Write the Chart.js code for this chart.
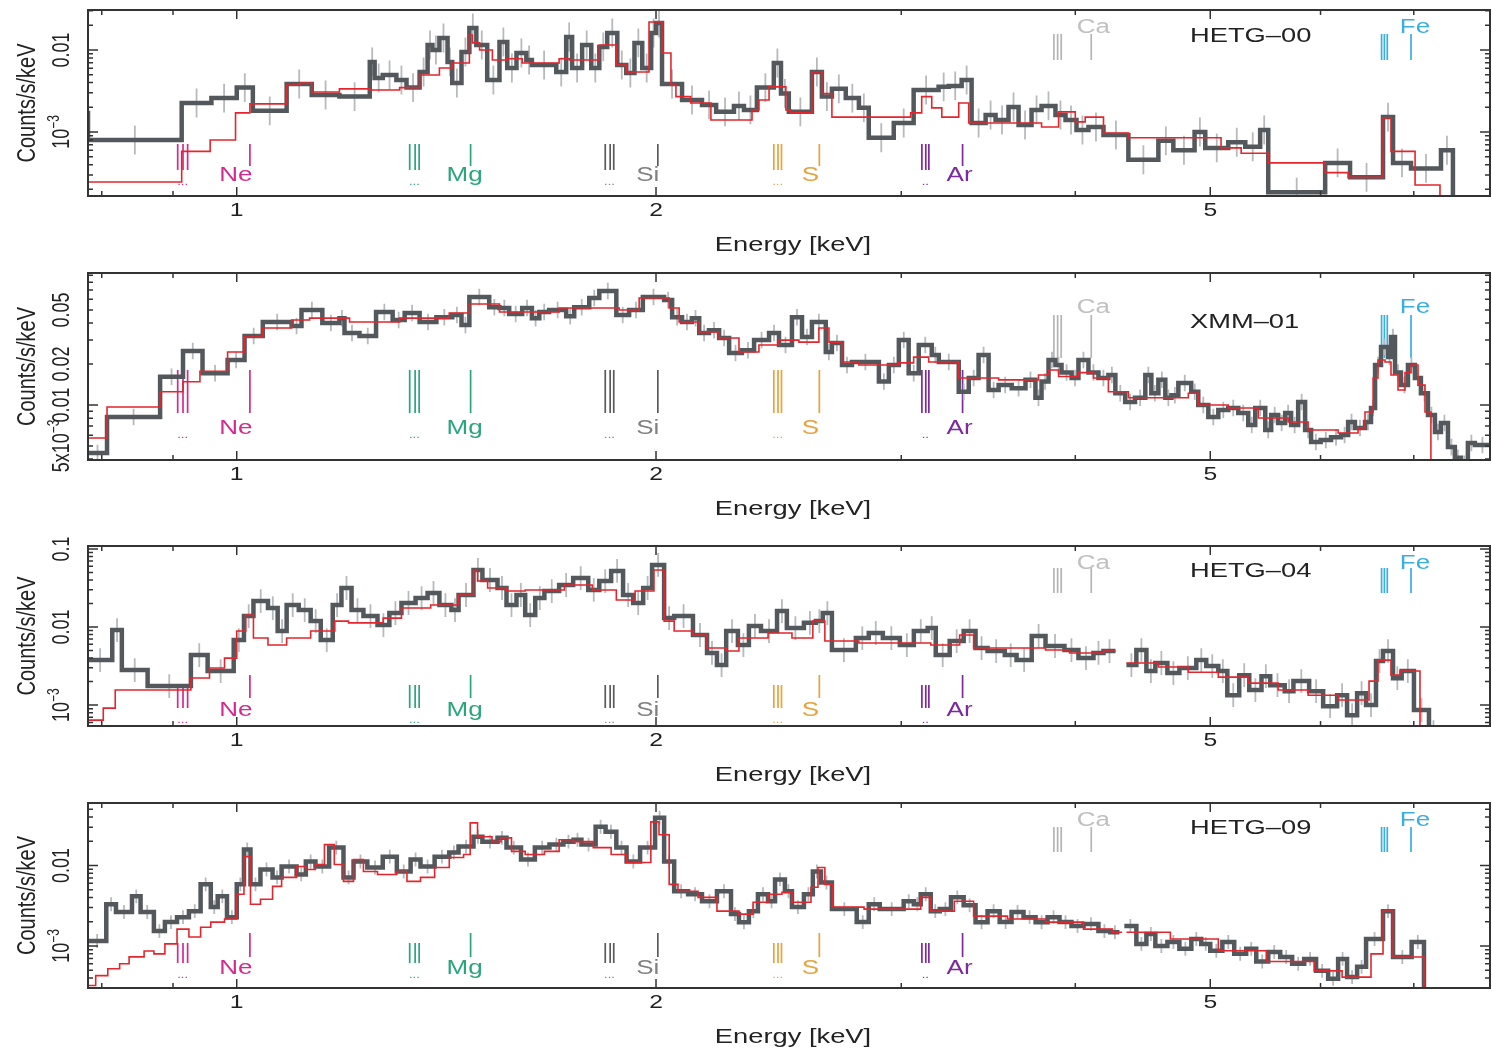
<!DOCTYPE html>
<html>
<head>
<meta charset="utf-8">
<script src="https://cdn.jsdelivr.net/npm/chart.js@4.4.0/dist/chart.umd.min.js"></script>
<style>
  html, body { margin: 0; padding: 0; background: #fff; }
  #wrap { position: relative; width: 1492px; height: 1050px; overflow: hidden; }
  .panel { position: absolute; left: 0; width: 1492px; }
</style>
</head>
<body>
<div id="wrap">
  <div class="panel" style="top:0;height:262px"><canvas id="c0"></canvas></div>
  <div class="panel" style="top:263px;height:263px"><canvas id="c1"></canvas></div>
  <div class="panel" style="top:536px;height:256px"><canvas id="c2"></canvas></div>
  <div class="panel" style="top:793px;height:257px"><canvas id="c3"></canvas></div>
</div>
<script>
// ---- energy axis (keV) ----
const X_MIN = 0.782, X_MAX = 7.94;
const xTickVals = [0.8, 0.9, 1, 2, 3, 4, 5, 6, 7];
const xTickText = ['', '', '1', '2', '', '', '5', '', ''];

// ---- emission line ids ----
const ionNames = ['Ne', 'Mg', 'Si', 'S', 'Ar', 'Ca', 'Fe'];
const ionTriplets = [[0.907, 0.915, 0.922], [1.331, 1.343, 1.352], [1.839, 1.854, 1.865],
  [2.430, 2.447, 2.461], [3.104, 3.124, 3.140], [3.861, 3.885, 3.908], [6.637, 6.668, 6.700]];
const ionSingles = [1.022, 1.472, 2.006, 2.620, 3.320, 4.107, 6.968];
const ionDots = ['...', '...', '...', '...', '..', '', ''];

// ---- HETG-00 ----
const p1Name = 'HETG\u201300';
const p1DataE = [0.772,0.782,0.913,0.959,1.000,1.027,1.086,1.132,1.185,1.246,1.256,1.273,1.302,1.324,1.353,1.371,1.382,1.398,1.417,1.428,1.450,1.469,1.486,1.513,1.544,1.564,1.588,1.614,1.629,1.696,1.724,1.741,1.770,1.797,1.821,1.845,1.876,1.904,1.930,1.955,1.984,2.000,2.020,2.088,2.158,2.209,2.275,2.313,2.363,2.430,2.459,2.491,2.588,2.631,2.675,2.737,2.797,2.843,2.963,3.062,3.191,3.245,3.315,3.370,3.449,3.506,3.582,3.642,3.721,3.783,3.871,3.936,4.008,4.088,4.191,4.367,4.589,4.704,4.872,4.959,5.151,5.298,5.430,5.503,6.046,6.300,6.653,6.764,6.968,7.322,7.468];
const p1DataV = [0.00171,0.00080,0.00226,0.00259,0.00348,0.00181,0.00385,0.00283,0.00270,0.00715,0.00456,0.00496,0.00431,0.00348,0.00538,0.0115,0.0100,0.0140,0.00715,0.00396,0.00946,0.0185,0.0115,0.00431,0.0125,0.00604,0.00919,0.00755,0.00656,0.00538,0.0144,0.00604,0.0115,0.00604,0.0109,0.0161,0.00656,0.00524,0.0122,0.00604,0.0161,0.0213,0.00385,0.00246,0.00214,0.00176,0.00208,0.00186,0.00348,0.00694,0.00295,0.00176,0.00538,0.00270,0.00336,0.00259,0.00197,0.00085,0.00129,0.00325,0.00355,0.00365,0.00431,0.00129,0.00161,0.00140,0.00202,0.00122,0.00186,0.00208,0.00161,0.00140,0.00106,0.00115,0.00092,0.00046,0.00078,0.00060,0.00100,0.00064,0.00075,0.00066,0.00106,0.000185,0.00042,0.00028,0.00152,0.00042,0.00036,0.00060,0.0001];
const p1ModelE = [0.782,0.913,0.957,0.998,1.022,1.086,1.110,1.132,1.185,1.246,1.309,1.353,1.398,1.428,1.469,1.476,1.494,1.526,1.561,1.603,1.704,1.733,1.821,1.873,1.904,1.977,2.020,2.050,2.067,2.118,2.190,2.344,2.371,2.411,2.479,2.499,2.588,2.631,2.675,3.047,3.103,3.155,3.208,3.299,3.354,3.783,3.891,4.000,4.066,4.191,4.367,5.090,5.262,5.503,6.046,6.280,6.653,6.741,7.015,7.310];
const p1ModelV = [0.000246,0.00058,0.00080,0.00171,0.0022,0.00374,0.00396,0.00308,0.00336,0.00325,0.00348,0.00496,0.00604,0.00694,0.0152,0.0122,0.0100,0.00755,0.00780,0.00694,0.00780,0.00755,0.0115,0.00656,0.00538,0.0219,0.00919,0.00374,0.00270,0.00226,0.00140,0.00186,0.00246,0.00355,0.00186,0.00171,0.00538,0.00295,0.00152,0.00171,0.00270,0.00197,0.00152,0.00226,0.00129,0.00115,0.00176,0.00133,0.00152,0.00097,0.00085,0.00064,0.00055,0.00042,0.00032,0.00028,0.00148,0.00058,0.000226,0.0001];
const p1ErrFactor = 1.5;
const p1YRange = [1.66e-4, 0.0307];
const p1YTicks = [0.01, 0.001];
const p1YText = ['0.01', '10^\u22123'];

// ---- XMM-01 ----
const p2Name = 'XMM\u201301';
const p2DataE = [0.782,0.807,0.881,0.915,0.945,0.985,1.013,1.044,1.095,1.113,1.152,1.185,1.195,1.225,1.259,1.294,1.320,1.353,1.391,1.428,1.450,1.469,1.518,1.544,1.569,1.603,1.629,1.649,1.676,1.724,1.747,1.791,1.821,1.873,1.913,1.957,2.027,2.054,2.088,2.122,2.148,2.183,2.220,2.257,2.305,2.352,2.411,2.451,2.504,2.546,2.588,2.648,2.675,2.720,2.765,2.891,2.939,2.988,3.037,3.088,3.155,3.192,3.299,3.354,3.409,3.466,3.524,3.601,3.684,3.745,3.783,3.827,3.871,3.910,3.976,4.021,4.088,4.156,4.225,4.274,4.344,4.415,4.491,4.536,4.589,4.642,4.689,4.743,4.845,4.902,4.984,5.067,5.151,5.237,5.324,5.386,5.476,5.530,5.594,5.659,5.715,5.782,5.849,5.907,6.001,6.105,6.207,6.280,6.351,6.458,6.522,6.566,6.631,6.708,6.741,6.786,6.853,6.933,7.013,7.083,7.166,7.249,7.321,7.407,7.492,7.567,7.655,7.744,7.94];
const p2DataV = [0.00444,0.00816,0.0161,0.0249,0.0171,0.0214,0.0321,0.0407,0.0381,0.0499,0.0400,0.0435,0.0338,0.0321,0.0483,0.0421,0.0474,0.0407,0.0442,0.0458,0.0387,0.0622,0.0524,0.0516,0.0467,0.0516,0.0435,0.0483,0.0499,0.0450,0.0524,0.0612,0.0689,0.0458,0.0499,0.0622,0.0591,0.0442,0.0407,0.0435,0.0338,0.0355,0.0311,0.0241,0.0253,0.0300,0.0338,0.0276,0.0442,0.0316,0.0407,0.0245,0.0285,0.0197,0.0207,0.0149,0.0197,0.0300,0.0171,0.0276,0.0233,0.0207,0.0125,0.0158,0.0233,0.0129,0.0140,0.0133,0.0153,0.0113,0.0149,0.0214,0.0197,0.0173,0.0158,0.0214,0.0173,0.0158,0.0166,0.0122,0.0105,0.0113,0.0166,0.0122,0.0153,0.0113,0.0118,0.0145,0.0125,0.0100,0.00816,0.00919,0.00950,0.00873,0.00713,0.00950,0.00655,0.00844,0.00737,0.00873,0.00713,0.0105,0.00655,0.00535,0.00553,0.00580,0.00602,0.00750,0.00678,0.00750,0.00950,0.0197,0.0267,0.0225,0.0316,0.0173,0.0140,0.0197,0.0158,0.0122,0.00844,0.00633,0.00737,0.00490,0.00410,0.00370,0.00526,0.00508,0.00508];
const p2ModelE = [0.782,0.807,0.881,0.915,0.941,0.985,1.013,1.044,1.095,1.128,1.205,1.309,1.421,1.469,1.544,1.704,1.882,1.945,2.044,2.078,2.148,2.220,2.294,2.371,2.451,2.533,2.618,2.662,2.719,2.797,2.988,3.062,3.139,3.299,3.524,3.764,3.827,3.891,4.021,4.122,4.225,4.367,4.822,4.902,5.151,5.413,5.687,5.878,6.177,6.384,6.458,6.545,6.598,6.675,6.741,6.820,6.899,6.968,7.049,7.131,7.201];
const p2ModelV = [0.00572,0.00967,0.0125,0.0148,0.0177,0.0245,0.0316,0.0368,0.0421,0.0435,0.0407,0.0435,0.0474,0.0553,0.0483,0.0516,0.0499,0.0612,0.0516,0.0407,0.0344,0.0311,0.0245,0.0276,0.0300,0.0290,0.0368,0.0290,0.0207,0.0197,0.0204,0.0225,0.0207,0.0158,0.0153,0.0166,0.0181,0.0162,0.0173,0.0158,0.0125,0.0113,0.0122,0.0100,0.00950,0.00802,0.00750,0.00655,0.00622,0.00678,0.00888,0.0158,0.0214,0.0207,0.0166,0.0129,0.0173,0.0197,0.0140,0.00888,0.0030];
const p2ErrFactor = 1.15;
const p2YRange = [0.00394, 0.0934];
const p2YTicks = [0.05, 0.02, 0.01, 0.005];
const p2YText = ['0.05', '0.02', '0.01', '5x10^\u22123'];

// ---- HETG-04 ----
const p3Name = 'HETG\u201304';
const p3DataE = [0.782,0.814,0.827,0.863,0.927,0.953,0.995,1.012,1.028,1.053,1.070,1.086,1.108,1.130,1.149,1.172,1.189,1.209,1.233,1.262,1.287,1.313,1.344,1.371,1.398,1.426,1.443,1.479,1.501,1.539,1.562,1.588,1.611,1.638,1.663,1.704,1.744,1.788,1.821,1.857,1.894,1.926,1.958,1.987,2.027,2.061,2.126,2.176,2.212,2.246,2.290,2.332,2.379,2.443,2.483,2.554,2.605,2.635,2.675,2.783,2.843,2.910,2.993,3.063,3.134,3.176,3.250,3.326,3.392,3.460,3.560,3.630,3.722,3.808,3.929,4.021,4.122,4.191,4.275,4.30,4.353,4.425,4.499,4.566,4.658,4.751,4.886,4.967,5.067,5.143,5.245,5.333,5.442,5.521,5.655,5.737,5.888,6.026,6.167,6.269,6.374,6.469,6.576,6.653,6.764,6.861,7.002,7.178,7.285];
const p3DataV = [0.00377,0.00915,0.00281,0.00175,0.00437,0.00273,0.00681,0.0138,0.0215,0.0175,0.00888,0.0191,0.0165,0.0119,0.00681,0.0191,0.0316,0.0165,0.0138,0.0106,0.0151,0.0203,0.0235,0.0273,0.0191,0.0165,0.0257,0.0538,0.0400,0.0316,0.0191,0.0257,0.0142,0.0235,0.0289,0.0345,0.0424,0.0298,0.0388,0.0522,0.0257,0.0203,0.0316,0.0624,0.0130,0.0138,0.00790,0.00465,0.00326,0.00888,0.00588,0.0103,0.00888,0.0160,0.00970,0.0113,0.0119,0.0151,0.00507,0.00722,0.00838,0.00722,0.00588,0.00888,0.00970,0.00437,0.00661,0.00888,0.00538,0.00492,0.00437,0.00377,0.00767,0.00571,0.00507,0.00400,0.00465,0.00492,0.00492,null,0.00326,0.00507,0.00273,0.00346,0.00257,0.00298,0.00377,0.00316,0.00273,0.00134,0.00242,0.00156,0.00235,0.00180,0.00151,0.00203,0.00151,0.00097,0.00134,0.000744,0.00142,0.00100,0.00366,0.00492,0.00221,0.00273,0.000863,0.00045,0.0001];
const p3ModelE = [0.782,0.802,0.818,0.927,0.956,0.980,1.000,1.015,1.028,1.053,1.086,1.130,1.176,1.203,1.274,1.313,1.378,1.443,1.479,1.489,1.514,1.562,1.611,1.719,1.800,1.873,1.932,1.993,2.027,2.061,2.126,2.176,2.246,2.294,2.407,2.504,2.592,2.644,2.797,3.150,3.304,3.381,3.808,3.962,4.191,4.275,4.30,4.353,4.589,4.822,5.067,5.324,5.594,5.878,6.177,6.501,6.598,6.741,6.842,7.072];
const p3ModelV = [0.000642,0.000915,0.00156,0.00222,0.00298,0.00400,0.00888,0.0142,0.00722,0.00588,0.00722,0.00888,0.0119,0.0113,0.0130,0.0175,0.0191,0.0257,0.0522,0.0388,0.0316,0.0289,0.0298,0.0345,0.0298,0.0222,0.0289,0.0538,0.0119,0.00888,0.00790,0.00538,0.00492,0.00722,0.00838,0.00722,0.0119,0.00661,0.00623,0.00588,0.00790,0.00538,0.00507,0.00465,0.00492,0.00492,null,0.00346,0.00307,0.00264,0.00228,0.00191,0.00156,0.00134,0.00116,0.00203,0.00377,0.00242,0.00273,0.0002];
const p3ErrFactor = 1.42;
const p3YRange = [5.4e-4, 0.109];
const p3YTicks = [0.1, 0.01, 0.001];
const p3YText = ['0.1', '0.01', '10^\u22123'];

// ---- HETG-09 ----
const p4Name = 'HETG\u201309';
const p4DataE = [0.782,0.806,0.819,0.841,0.853,0.872,0.888,0.906,0.924,0.942,0.958,0.969,0.984,1.000,1.012,1.023,1.040,1.061,1.077,1.104,1.121,1.139,1.165,1.193,1.213,1.241,1.273,1.303,1.333,1.355,1.387,1.421,1.443,1.479,1.501,1.539,1.562,1.600,1.637,1.677,1.716,1.745,1.768,1.810,1.840,1.873,1.905,1.948,1.997,2.027,2.061,2.109,2.158,2.212,2.264,2.294,2.332,2.367,2.407,2.435,2.475,2.504,2.554,2.592,2.627,2.675,2.787,2.843,2.895,3.012,3.063,3.098,3.150,3.197,3.257,3.326,3.392,3.460,3.530,3.600,3.672,3.746,3.821,3.897,3.975,4.055,4.156,4.239,4.303,4.32,4.338,4.425,4.499,4.566,4.658,4.751,4.846,4.926,5.000,5.101,5.202,5.306,5.395,5.503,5.613,5.725,5.840,5.956,6.076,6.177,6.269,6.374,6.469,6.653,6.764,6.975,7.119];
const p4DataV = [0.00115,0.00330,0.00264,0.00414,0.00264,0.00153,0.00198,0.00228,0.00271,0.00583,0.00304,0.00414,0.00228,0.00583,0.0158,0.00583,0.00893,0.00712,0.00972,0.00775,0.0112,0.00972,0.0167,0.00712,0.0112,0.00945,0.0129,0.00843,0.0119,0.00972,0.0129,0.0145,0.0172,0.0228,0.0198,0.0221,0.0167,0.0119,0.0167,0.0182,0.0198,0.0209,0.0182,0.0303,0.0263,0.0167,0.0112,0.0167,0.0392,0.0112,0.00478,0.00439,0.00359,0.00478,0.00249,0.00197,0.00271,0.00439,0.00359,0.00672,0.00478,0.00304,0.00439,0.00843,0.00614,0.00287,0.00198,0.00330,0.00287,0.00359,0.00330,0.00439,0.00271,0.00287,0.00402,0.00320,0.00197,0.00271,0.00198,0.00264,0.00228,0.00197,0.00228,0.00198,0.00177,0.00187,0.00153,0.00148,0.00148,null,0.00177,0.00106,0.00141,0.00100,0.00112,0.00092,0.00122,0.00106,0.00087,0.00112,0.00080,0.00092,0.00064,0.00084,0.00073,0.00060,0.00069,0.00049,0.00039,0.00069,0.00041,0.00055,0.00122,0.00271,0.00073,0.00112,0.0001];
const p4ModelE = [0.782,0.792,0.808,0.824,0.837,0.858,0.872,0.888,0.906,0.924,0.942,0.958,0.980,1.000,1.012,1.023,1.040,1.061,1.077,1.104,1.121,1.139,1.156,1.175,1.193,1.213,1.233,1.262,1.303,1.325,1.355,1.387,1.421,1.455,1.471,1.489,1.525,1.548,1.575,1.611,1.663,1.704,1.744,1.803,1.857,1.905,1.983,2.010,2.044,2.074,2.144,2.212,2.294,2.348,2.407,2.463,2.504,2.584,2.614,2.644,2.679,2.821,3.098,3.150,3.275,3.381,3.576,3.808,4.055,4.253,4.322,4.34,4.353,4.681,5.067,5.485,5.937,6.218,6.522,6.653,6.764,7.119];
const p4ModelV = [0.000322,0.000427,0.000521,0.000601,0.000731,0.000866,0.000798,0.00106,0.00162,0.00129,0.00171,0.00198,0.00216,0.00439,0.0129,0.00330,0.00381,0.00551,0.00712,0.00972,0.00893,0.0103,0.0182,0.0103,0.00635,0.0119,0.00843,0.00775,0.00843,0.00635,0.00712,0.00945,0.0126,0.0137,0.0339,0.0228,0.0198,0.0221,0.0150,0.0137,0.0150,0.0209,0.0198,0.0167,0.0137,0.0109,0.0349,0.0241,0.00583,0.00478,0.00402,0.00271,0.00249,0.00350,0.00439,0.00465,0.00350,0.00537,0.00945,0.00583,0.00304,0.00287,0.00402,0.00271,0.00359,0.00235,0.00216,0.00198,0.00162,0.00148,0.00148,null,0.00148,0.00122,0.00087,0.00064,0.00049,0.00041,0.000798,0.00271,0.00073,0.0001];
const p4ErrFactor = 1.22;
const p4YRange = [3.12e-4, 0.0599];
const p4YTicks = [0.01, 0.001];
const p4YText = ['0.01', '10^\u22123'];

// ---- look ----
const STRETCH = 1.3;   // the figure is drawn wide, text too
const FONT = '"Liberation Sans", Arial, Helvetica, sans-serif';
const ionColors = ['#d42a8f', '#2aa57c', '#5a5a5a', '#e6a23c', '#7d2a9c', '#b5b5b5', '#3aaee0'];
const ionLabelColors = ['#d42a8f', '#2aa57c', '#808080', '#e6a23c', '#7d2a9c', '#c0c0c0', '#3aaee0'];
const ionOnTop = [false, false, false, false, false, true, true];
const ionLabelDx = [-14, -6, -10, -9, -3, 2, 4];   // label centre relative to the single line, px

// per panel geometry, offsets are from the top of the plot frame
const panels = [
  { canvas: 'c0', height: 262, plotH: 186, name: p1Name, nameDy: 26,
    dataE: p1DataE, dataV: p1DataV, modelE: p1ModelE, modelV: p1ModelV, err: p1ErrFactor,
    yRange: p1YRange, yTicks: p1YTicks, yText: p1YText,
    low: { tTop: 134, tBot: 160, sTop: 134, sBot: 156, label: 165, dots: 172 },
    up: { top: 24, bot: 50, label: 17 } },
  { canvas: 'c1', height: 263, plotH: 187, name: p2Name, nameDy: 49,
    dataE: p2DataE, dataV: p2DataV, modelE: p2ModelE, modelV: p2ModelV, err: p2ErrFactor,
    yRange: p2YRange, yTicks: p2YTicks, yText: p2YText,
    low: { tTop: 97, tBot: 140, sTop: 97, sBot: 140, label: 155, dots: 162 },
    up: { top: 42, bot: 85, label: 34 } },
  { canvas: 'c2', height: 256, plotH: 180, name: p3Name, nameDy: 25,
    dataE: p3DataE, dataV: p3DataV, modelE: p3ModelE, modelV: p3ModelV, err: p3ErrFactor,
    yRange: p3YRange, yTicks: p3YTicks, yText: p3YText,
    low: { tTop: 139, tBot: 162, sTop: 129, sBot: 152, label: 164, dots: 174 },
    up: { top: 22, bot: 47, label: 17 } },
  { canvas: 'c3', height: 257, plotH: 185, name: p4Name, nameDy: 25,
    dataE: p4DataE, dataV: p4DataV, modelE: p4ModelE, modelV: p4ModelV, err: p4ErrFactor,
    yRange: p4YRange, yTicks: p4YTicks, yText: p4YText,
    low: { tTop: 140, tBot: 160, sTop: 130, sBot: 154, label: 165, dots: 172 },
    up: { top: 24, bot: 49, label: 17 } }
];

function toPoints(E, V) {
  return E.map((e, i) => ({ x: e, y: V[i] }));
}

// one vertical bar per data bin, at the bin centre
function errorBars(E, V, f) {
  const pts = [];
  for (let i = 0; i < E.length - 1; i++) {
    if (V[i] == null || V[i + 1] == null) continue;
    const c = Math.sqrt(E[i] * E[i + 1]);
    pts.push({ x: c, y: V[i] / f }, { x: c, y: V[i] * f }, { x: c, y: null });
  }
  return pts;
}

function logTicks(min, max) {
  const out = [];
  for (let e = Math.floor(Math.log10(min)); e <= Math.ceil(Math.log10(max)); e++) {
    for (let m = 1; m <= 9; m++) {
      const v = m * Math.pow(10, e);
      if (v >= min && v <= max) out.push({ v: v, major: m === 1 });
    }
  }
  return out;
}

// text is widened like the rest of the figure; "a^b" gives a superscript
function drawText(ctx, text, x, y, size, color, align, rotate) {
  ctx.save();
  ctx.translate(x, y);
  ctx.scale(STRETCH, 1);
  if (rotate) ctx.rotate(-Math.PI / 2);
  ctx.fillStyle = color;
  ctx.textBaseline = 'middle';
  const parts = text.split('^');
  if (parts.length === 2) {
    const small = Math.round(size * 0.68);
    ctx.font = size + 'px ' + FONT;
    const w1 = ctx.measureText(parts[0]).width;
    ctx.font = small + 'px ' + FONT;
    const w2 = ctx.measureText(parts[1]).width;
    const x0 = align === 'left' ? 0 : align === 'right' ? -(w1 + w2) : -(w1 + w2) / 2;
    ctx.textAlign = 'left';
    ctx.font = size + 'px ' + FONT;
    ctx.fillText(parts[0], x0, 0);
    ctx.font = small + 'px ' + FONT;
    ctx.fillText(parts[1], x0 + w1, -size * 0.36);
  } else {
    ctx.font = size + 'px ' + FONT;
    ctx.textAlign = align;
    ctx.fillText(text, 0, 0);
  }
  ctx.restore();
}

function vline(ctx, x, y0, y1) {
  ctx.beginPath();
  ctx.moveTo(x, y0);
  ctx.lineTo(x, y1);
  ctx.stroke();
}

function makeDecor(p) {
  return {
    id: 'decor',
    beforeDatasetsDraw(chart) {
      const { ctx, chartArea: a, scales: { x } } = chart;
      ctx.save();
      ctx.lineWidth = 1.7;
      ionNames.forEach((ion, k) => {
        ctx.strokeStyle = ionColors[k];
        const tx = ionTriplets[k].map(e => x.getPixelForValue(e));
        const sx = x.getPixelForValue(ionSingles[k]);
        if (ionOnTop[k]) {
          tx.forEach(px => vline(ctx, px, a.top + p.up.top, a.top + p.up.bot));
          vline(ctx, sx, a.top + p.up.top, a.top + p.up.bot);
          drawText(ctx, ion, sx + ionLabelDx[k], a.top + p.up.label, 20, ionLabelColors[k], 'center');
        } else {
          tx.forEach(px => vline(ctx, px, a.top + p.low.tTop, a.top + p.low.tBot));
          vline(ctx, sx, a.top + p.low.sTop, a.top + p.low.sBot);
          drawText(ctx, ion, sx + ionLabelDx[k], a.top + p.low.label, 20, ionLabelColors[k], 'center');
          const cx = (tx[0] + tx[2]) / 2;
          drawText(ctx, ionDots[k], cx, a.top + p.low.dots, 10, ionLabelColors[k], 'center');
        }
      });
      ctx.restore();
    },
    afterDraw(chart) {
      const { ctx, chartArea: a, scales: { x, y } } = chart;
      ctx.save();
      ctx.strokeStyle = '#333';
      ctx.lineWidth = 1.5;
      xTickVals.forEach((v, i) => {
        const px = x.getPixelForValue(v);
        const len = xTickText[i] ? 9 : 5;
        vline(ctx, px, a.bottom, a.bottom - len);
        vline(ctx, px, a.top, a.top + len);
        if (xTickText[i]) drawText(ctx, xTickText[i], px, a.bottom + 15, 19, '#222', 'center');
      });
      logTicks(p.yRange[0], p.yRange[1]).forEach(t => {
        const py = y.getPixelForValue(t.v);
        const len = t.major ? 10 : 5;
        ctx.beginPath();
        ctx.moveTo(a.left, py); ctx.lineTo(a.left + len, py);
        ctx.moveTo(a.right, py); ctx.lineTo(a.right - len, py);
        ctx.stroke();
      });
      ctx.lineWidth = 2;
      ctx.strokeRect(a.left, a.top, a.right - a.left, a.bottom - a.top);

      p.yTicks.forEach((v, i) => {
        drawText(ctx, p.yText[i], 63, y.getPixelForValue(v), 18, '#222', 'center', true);
      });
      drawText(ctx, 'Counts/s/keV', 28, (a.top + a.bottom) / 2, 20, '#222', 'center', true);
      drawText(ctx, 'Energy [keV]', (a.left + a.right) / 2 + 4, a.bottom + 49, 21, '#222', 'center');
      drawText(ctx, p.name, 1190, a.top + p.nameDy, 21, '#222', 'left');
      ctx.restore();
    }
  };
}

function buildPanel(p) {
  const axisH = p.height - 10 - p.plotH;
  return new Chart(document.getElementById(p.canvas), {
    type: 'line',
    data: {
      datasets: [
        { label: 'model', data: toPoints(p.modelE, p.modelV), borderColor: '#e3262d',
          borderWidth: 1.6, stepped: true, pointRadius: 0, spanGaps: false, clip: 0, order: 0 },
        { label: 'data', data: toPoints(p.dataE, p.dataV), borderColor: '#53585c',
          borderWidth: 4.5, borderJoinStyle: 'miter', stepped: true, pointRadius: 0,
          spanGaps: false, clip: 0, order: 1 },
        { label: 'errors', data: errorBars(p.dataE, p.dataV, p.err), borderColor: '#b7babd',
          borderWidth: 1.8, pointRadius: 0, spanGaps: false, clip: 0, order: 2 }
      ]
    },
    options: {
      responsive: true,
      maintainAspectRatio: false,
      animation: false,
      layout: { padding: { top: 10, right: 2, left: 0, bottom: 0 } },
      plugins: { legend: { display: false }, tooltip: { enabled: false } },
      scales: {
        x: { type: 'logarithmic', min: X_MIN, max: X_MAX,
             ticks: { display: false }, grid: { display: false }, border: { display: false },
             afterFit: s => { s.height = axisH; } },
        y: { type: 'logarithmic', min: p.yRange[0], max: p.yRange[1],
             ticks: { display: false }, grid: { display: false }, border: { display: false },
             afterFit: s => { s.width = 88; } }
      }
    },
    plugins: [makeDecor(p)]
  });
}

panels.forEach(buildPanel);
</script>
</body>
</html>
